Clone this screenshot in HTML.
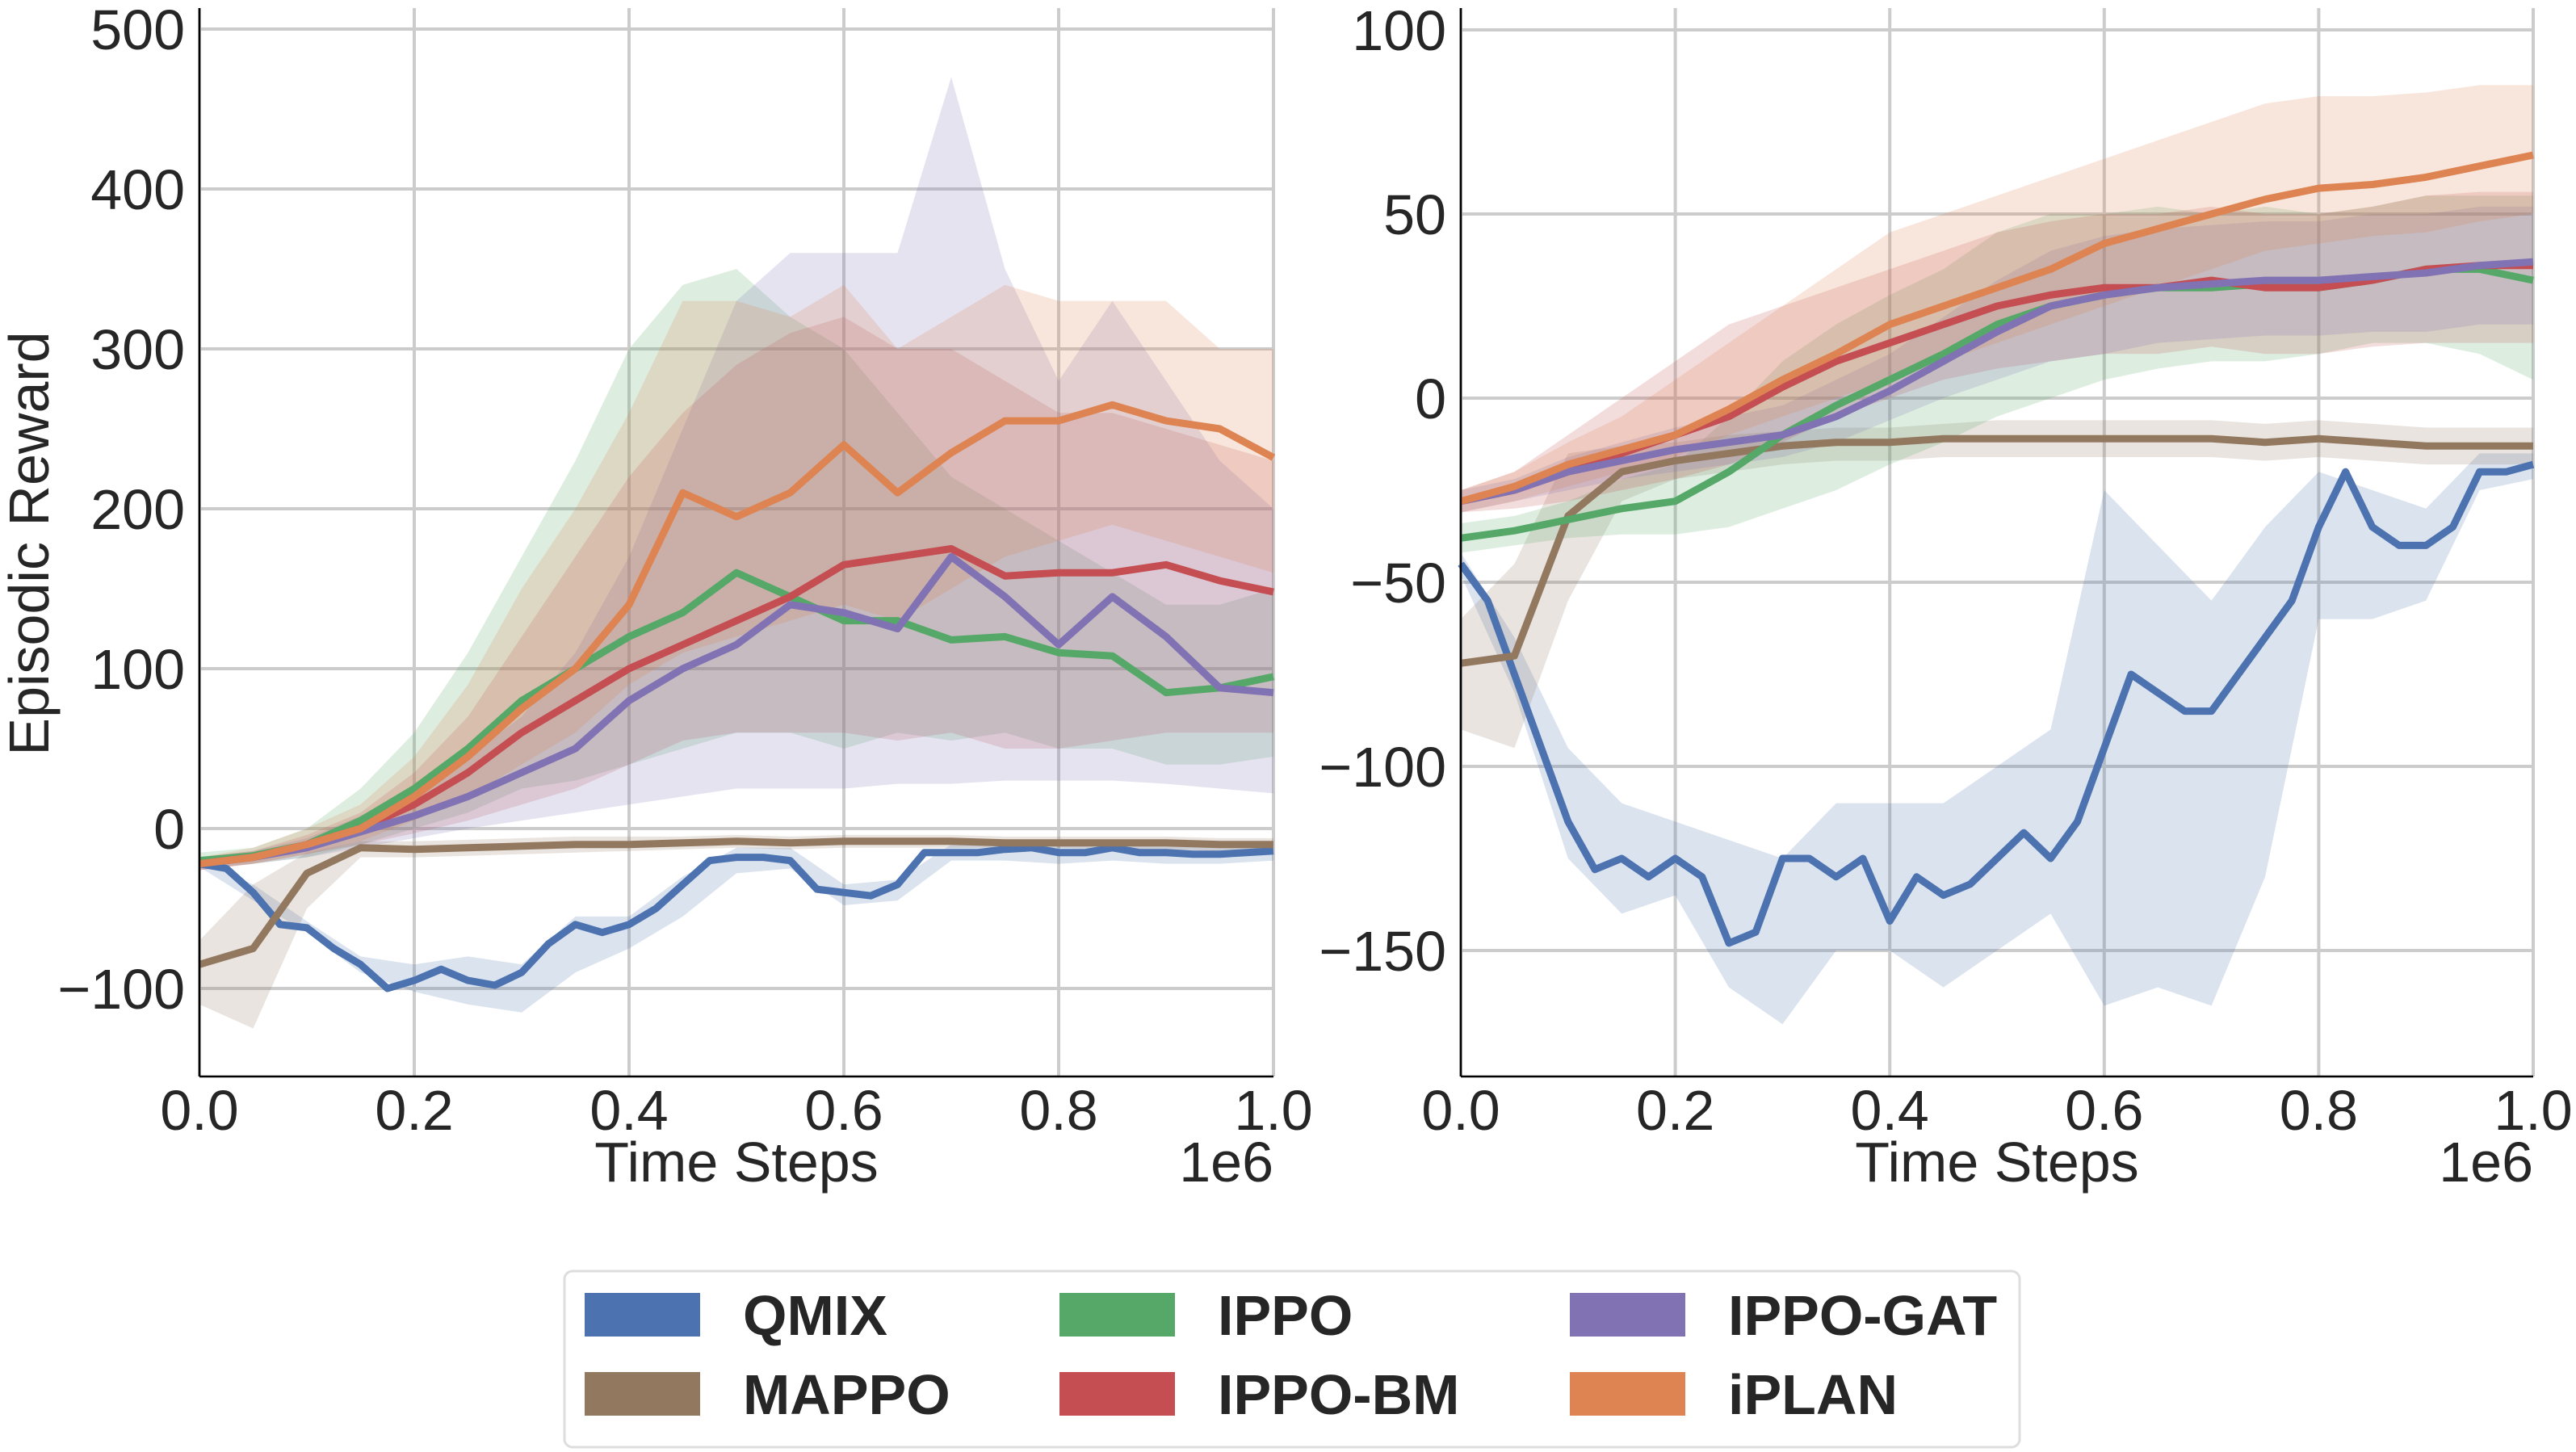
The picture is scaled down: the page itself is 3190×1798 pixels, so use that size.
<!DOCTYPE html>
<html><head><meta charset="utf-8"><style>
html,body{margin:0;padding:0;background:#fff;}
svg{display:block;font-family:"Liberation Sans",sans-serif;}
</style></head><body>
<svg id="fig" width="3190" height="1798" viewBox="0 0 3190 1798" xmlns="http://www.w3.org/2000/svg">
<g id="left"></g>
<g id="right"></g>
<text transform="translate(60,673) rotate(-90)" text-anchor="middle" font-size="70" fill="#262626">Episodic Reward</text>
<g id="legend"></g>
</svg>
<script>
const seriesNames = ["QMIX","MAPPO","IPPO","IPPO-BM","IPPO-GAT","iPLAN"];
const seriesColors = ["#4C72B0","#937860","#55A868","#C44E52","#8172B3","#DD8452"];
const xTicks = [0,0.2,0.4,0.6,0.8,1.0];
const xTickLabels = ["0.0","0.2","0.4","0.6","0.8","1.0"];
const leftYTicks = [-100,0,100,200,300,400,500];
const rightYTicks = [-150,-100,-50,0,50,100];

// Left chart data
const L_qmix = [-22,-25,-40,-60,-62,-75,-85,-100,-95,-88,-95,-98,-90,-72,-60,-65,-60,-50,-35,-20,-18,-18,-20,-38,-40,-42,-35,-15,-15,-15,-13,-12,-15,-15,-12,-15,-15,-16,-16,-15,-14];
const L_qmix_lo = [-24,-45,-65,-90,-102,-110,-115,-90,-75,-55,-28,-25,-48,-45,-20,-20,-22,-20,-22,-22,-20];
const L_qmix_hi = [-20,-35,-58,-80,-85,-80,-85,-55,-55,-30,-12,-12,-35,-32,-10,-8,-10,-8,-10,-10,-8];
const L_mappo = [-85,-75,-28,-12,-13,-12,-11,-10,-10,-9,-8,-9,-8,-8,-8,-9,-9,-9,-9,-10,-10];
const L_mappo_lo = [-110,-125,-50,-18,-18,-17,-16,-15,-14,-13,-12,-13,-12,-12,-12,-12,-12,-13,-13,-14,-14];
const L_mappo_hi = [-70,-35,-15,-8,-8,-7,-6,-5,-5,-5,-4,-5,-4,-4,-4,-5,-5,-5,-5,-6,-6];
const L_ippo = [-20,-17,-10,5,25,50,80,100,120,135,160,145,130,130,118,120,110,108,85,88,95];
const L_ippo_lo = [-25,-22,-18,-10,0,10,25,30,40,50,60,60,50,60,55,60,50,50,40,40,45];
const L_ippo_hi = [-15,-12,0,25,60,110,170,230,300,340,350,320,300,260,220,200,180,160,140,140,150];
const L_bm = [-22,-18,-10,0,15,35,60,80,100,115,130,145,165,170,175,158,160,160,165,155,148];
const L_bm_lo = [-26,-22,-16,-10,-3,5,15,25,40,55,60,60,60,55,60,50,50,55,60,60,60];
const L_bm_hi = [-18,-14,-4,10,35,70,120,170,220,260,290,310,320,300,300,280,260,260,250,240,230];
const L_gat = [-22,-18,-12,-2,8,20,35,50,80,100,115,140,135,125,170,145,115,145,120,88,85];
const L_gat_lo = [-26,-22,-18,-12,-6,0,5,10,15,20,25,25,25,28,28,30,30,30,28,25,22];
const L_gat_hi = [-18,-14,-6,8,25,45,70,110,170,250,330,360,360,360,470,350,280,330,280,230,200];
const L_iplan = [-22,-18,-10,0,20,45,75,100,140,210,195,210,240,210,235,255,255,265,255,250,232];
const L_iplan_lo = [-26,-22,-16,-8,5,20,40,60,90,110,120,130,140,130,150,170,180,190,180,170,160];
const L_iplan_hi = [-18,-12,0,15,45,90,150,200,260,330,330,320,340,300,320,340,330,330,330,300,300];

// Right chart data
const R_qmix = [-45,-55,-75,-95,-115,-128,-125,-130,-125,-130,-148,-145,-125,-125,-130,-125,-142,-130,-135,-132,-125,-118,-125,-115,-95,-75,-80,-85,-85,-75,-65,-55,-35,-20,-35,-40,-40,-35,-20,-20,-18];
const R_qmix_lo = [-48,-80,-125,-140,-135,-160,-170,-150,-150,-160,-150,-140,-165,-160,-165,-130,-60,-60,-55,-25,-22];
const R_qmix_hi = [-42,-65,-95,-110,-115,-120,-125,-110,-110,-110,-100,-90,-25,-40,-55,-35,-20,-25,-30,-15,-15];
const R_mappo = [-72,-70,-32,-20,-17,-15,-13,-12,-12,-11,-11,-11,-11,-11,-11,-12,-11,-12,-13,-13,-13];
const R_mappo_lo = [-90,-95,-55,-28,-22,-20,-18,-17,-17,-16,-16,-16,-16,-16,-16,-17,-16,-17,-18,-18,-18];
const R_mappo_hi = [-60,-45,-15,-13,-12,-10,-9,-8,-8,-7,-6,-6,-6,-6,-6,-7,-6,-7,-8,-8,-8];
const R_ippo = [-38,-36,-33,-30,-28,-20,-10,-2,5,12,20,25,28,30,30,31,30,32,35,35,32];
const R_ippo_lo = [-42,-40,-38,-37,-37,-35,-30,-25,-18,-12,-5,0,5,8,10,10,12,15,15,12,5];
const R_ippo_hi = [-34,-32,-28,-22,-18,-5,10,20,28,35,45,50,50,52,50,52,50,52,55,55,55];
const R_bm = [-28,-25,-20,-15,-10,-5,3,10,15,20,25,28,30,30,32,30,30,32,35,36,36];
const R_bm_lo = [-31,-30,-28,-25,-22,-18,-12,-5,0,5,8,10,12,12,14,12,12,14,15,15,15];
const R_bm_hi = [-25,-20,-10,0,10,20,25,30,35,40,45,48,50,50,52,50,50,52,55,56,56];
const R_gat = [-28,-25,-20,-17,-14,-12,-10,-5,2,10,18,25,28,30,31,32,32,33,34,36,37];
const R_gat_lo = [-31,-28,-25,-22,-20,-18,-16,-12,-6,0,5,10,12,15,16,17,17,18,18,20,20];
const R_gat_hi = [-25,-22,-16,-12,-8,-5,-2,5,12,22,32,40,44,46,47,48,48,50,50,52,52];
const R_iplan = [-28,-24,-18,-14,-10,-3,5,12,20,25,30,35,42,46,50,54,57,58,60,63,66];
const R_iplan_lo = [-31,-28,-24,-20,-16,-10,-5,0,5,10,15,20,25,30,35,40,42,44,45,48,50];
const R_iplan_hi = [-25,-20,-12,-5,5,15,25,35,45,50,55,60,65,70,75,80,82,82,83,85,85];

const NS="http://www.w3.org/2000/svg";
function mk(tag, attrs, parent){const e=document.createElementNS(NS,tag);for(const k in attrs)e.setAttribute(k,attrs[k]);parent.appendChild(e);return e;}

function drawChart(g, cfg){
  const sx=v=>cfg.x0+(cfg.x1-cfg.x0)*v;
  const sy=v=>cfg.yZero-v*cfg.yPer;
  cfg.yTicks.forEach(t=>{
    const l=mk('line',{x1:cfg.x0,x2:cfg.x1,y1:sy(t),y2:sy(t),stroke:'#cccccc','stroke-width':4},g);
    
    
    const tx=mk('text',{x:cfg.x0-18,y:sy(t)+25,'text-anchor':'end','font-size':70,fill:'#262626'},g);
    tx.textContent=(t<0?'\u2212'+(-t):''+t);
    
    
  });
  xTicks.forEach((t,i)=>{
    const l=mk('line',{x1:sx(t),x2:sx(t),y1:cfg.yTop,y2:cfg.yBot,stroke:'#cccccc','stroke-width':4},g);
    
    
    const tx=mk('text',{x:sx(t),y:cfg.yBot+66,'text-anchor':'middle','font-size':70,fill:'#262626'},g);
    tx.textContent=xTickLabels[i];
    
    
  });
  cfg.series.forEach((s,i)=>{
    const n=s.lo.length;
    let d='';
    s.hi.forEach((v,j)=>{d+=(j?'L':'M')+sx(j/(n-1)).toFixed(1)+','+sy(v).toFixed(1);});
    for(let j=n-1;j>=0;j--) d+='L'+sx(j/(n-1)).toFixed(1)+','+sy(s.lo[j]).toFixed(1);
    const p=mk('path',{d:d+'Z',fill:seriesColors[i],'fill-opacity':0.2,stroke:'none'},g);
    
    
  });
  cfg.series.forEach((s,i)=>{
    const n=s.mean.length;
    const d=s.mean.map((v,j)=>(j?'L':'M')+sx(j/(n-1)).toFixed(1)+','+sy(v).toFixed(1)).join('');
    const p=mk('path',{d:d,fill:'none',stroke:seriesColors[i],'stroke-width':9,'stroke-linejoin':'round'},g);
    
    
  });
  const a=mk('line',{x1:cfg.x0,x2:cfg.x0,y1:cfg.yTop,y2:cfg.yBot,stroke:'#000','stroke-width':2.5},g);
  
  
  const b=mk('line',{x1:cfg.x0,x2:cfg.x1,y1:cfg.yBot,y2:cfg.yBot,stroke:'#000','stroke-width':2.5},g);
  
  
  const xt=mk('text',{x:(cfg.x0+cfg.x1)/2,y:cfg.yBot+130,'text-anchor':'middle','font-size':70,fill:'#262626'},g);
  xt.textContent='Time Steps';
  
  
  const off=mk('text',{x:cfg.x1,y:cfg.yBot+130,'text-anchor':'end','font-size':70,fill:'#262626'},g);
  off.textContent='1e6';
  
  
}

drawChart(document.getElementById('left'),{x0:247,x1:1577,yTop:10,yBot:1333,yZero:1026,yPer:1.98,yTicks:leftYTicks,
 series:[{mean:L_qmix,lo:L_qmix_lo,hi:L_qmix_hi},{mean:L_mappo,lo:L_mappo_lo,hi:L_mappo_hi},{mean:L_ippo,lo:L_ippo_lo,hi:L_ippo_hi},{mean:L_bm,lo:L_bm_lo,hi:L_bm_hi},{mean:L_gat,lo:L_gat_lo,hi:L_gat_hi},{mean:L_iplan,lo:L_iplan_lo,hi:L_iplan_hi}]});
drawChart(document.getElementById('right'),{x0:1809,x1:3137,yTop:10,yBot:1333,yZero:493,yPer:4.56,yTicks:rightYTicks,
 series:[{mean:R_qmix,lo:R_qmix_lo,hi:R_qmix_hi},{mean:R_mappo,lo:R_mappo_lo,hi:R_mappo_hi},{mean:R_ippo,lo:R_ippo_lo,hi:R_ippo_hi},{mean:R_bm,lo:R_bm_lo,hi:R_bm_hi},{mean:R_gat,lo:R_gat_lo,hi:R_gat_hi},{mean:R_iplan,lo:R_iplan_lo,hi:R_iplan_hi}]});

const lg=document.getElementById('legend');
const fr=mk('rect',{x:699,y:1574,width:1802,height:218,rx:10,fill:'#fff',stroke:'#dddddd','stroke-width':3},lg);


const colX=[724,1312,1944];
const rowY=[1628,1726];
seriesNames.forEach((nm,i)=>{
  const c=Math.floor(i/2), r=i%2;
  const sw=mk('rect',{x:colX[c],y:rowY[r]-27,width:143,height:54,fill:seriesColors[i]},lg);
  
  
  const t=mk('text',{x:colX[c]+196,y:rowY[r]+25,'font-size':70,'font-weight':'bold',fill:'#262626'},lg);
  t.textContent=nm;
  
  
});
</script>
</body></html>
